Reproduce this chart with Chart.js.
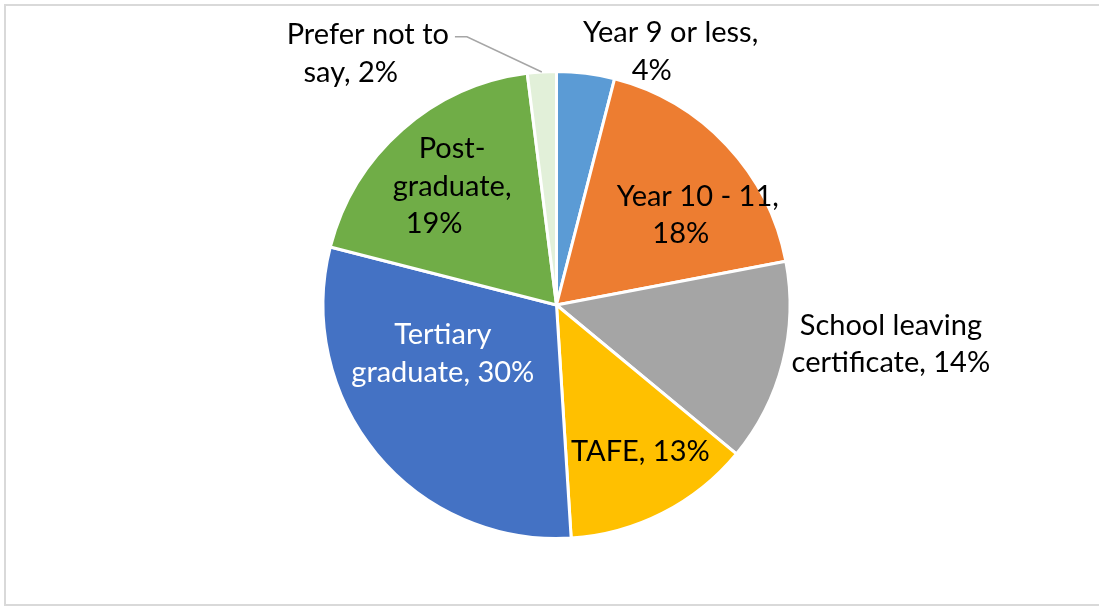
<!DOCTYPE html>
<html>
<head>
<meta charset="utf-8">
<script src="https://cdn.jsdelivr.net/npm/chart.js@4"></script>
<style>
  html, body { margin: 0; padding: 0; background: #fff; overflow: hidden; }
  #wrap { position: relative; width: 1099px; height: 606px; overflow: hidden; }
  #frame {
    position: absolute; left: 4px; top: 4px; width: 1200px; height: 602px;
    border: 2px solid #d9d9d9; box-sizing: border-box;
  }
  canvas { position: absolute; left: 0; top: 0; }
</style>
</head>
<body>
<div id="wrap">
  <div id="frame"></div>
  <canvas id="pie" width="1099" height="606"></canvas>
</div>
<script>
// ── Data ──────────────────────────────────────────────────────────────────────
const categories = [
  'Year 9 or less',
  'Year 10 - 11',
  'School leaving certificate',
  'TAFE',
  'Tertiary graduate',
  'Post-graduate',
  'Prefer not to say',
];
const shares = [4, 18, 14, 13, 30, 19, 2];

// wrapped label text, one entry per slice
const labelLines = [
  ['Year 9 or less,', '4%'],
  ['Year 10 - 11,', '18%'],
  ['School leaving', 'certificate, 14%'],
  ['TAFE, 13%'],
  ['Tertiary', 'graduate, 30%'],
  ['Post-', 'graduate,', '19%'],
  ['Prefer not to', 'say, 2%'],
];

// ── Styling ───────────────────────────────────────────────────────────────────
const sliceColors = ['#5B9BD5', '#ED7D31', '#A5A5A5', '#FFC000', '#4472C4', '#70AD47', '#E2F0D9'];
const labelColors = ['#000', '#000', '#000', '#000', '#fff', '#000', '#000'];
// label block centre relative to the pie centre, in units of the radius
const labelOffsets = [
  [0.489, -1.085],
  [0.605, -0.385],
  [1.432, 0.167],
  [0.359, 0.628],
  [-0.487, 0.209],
  [-0.447, -0.509],
  [-0.808, -1.077],
];
// the wrapped value line sits a little left of the line above it
const lastLineNudge = [-19, -17, 0, 0, 0, -18, -17];
const leaderFor = [6]; // slices whose label sits away from the pie with a line
const FONT = '29px Lato, "Open Sans", sans-serif';
const LINE_H = 37.5;

// ── Label plugin ──────────────────────────────────────────────────────────────
const sliceLabels = {
  id: 'sliceLabels',
  afterDatasetsDraw(chart) {
    const { ctx } = chart;
    const arcs = chart.getDatasetMeta(0).data;
    ctx.save();
    ctx.font = FONT;
    ctx.textAlign = 'center';
    ctx.textBaseline = 'middle';
    arcs.forEach((arc, i) => {
      const r = arc.outerRadius;
      const cx = arc.x + labelOffsets[i][0] * r;
      const cy = arc.y + labelOffsets[i][1] * r;
      const lines = labelLines[i];
      const top = cy - (lines.length - 1) * LINE_H / 2;

      if (leaderFor.includes(i)) {
        const w = ctx.measureText(lines[0]).width;
        const mid = (arc.startAngle + arc.endAngle) / 2;
        const ex = arc.x + Math.cos(mid) * r;
        const ey = arc.y + Math.sin(mid) * r;
        const sx = cx + w / 2 + 6;
        const sy = top + 2;
        ctx.strokeStyle = '#a6a6a6';
        ctx.lineWidth = 1.5;
        ctx.beginPath();
        ctx.moveTo(sx, sy);
        ctx.lineTo(sx + 12, sy);
        ctx.lineTo(ex, ey);
        ctx.stroke();
      }

      ctx.fillStyle = labelColors[i];
      lines.forEach((t, k) => {
        const nudge = (k === lines.length - 1 && k > 0) ? lastLineNudge[i] : 0;
        ctx.fillText(t, cx + nudge, top + k * LINE_H);
      });
    });
    ctx.restore();
  }
};

// ── Chart ─────────────────────────────────────────────────────────────────────
new Chart(document.getElementById('pie'), {
  type: 'pie',
  data: {
    labels: categories,
    datasets: [{
      data: shares,
      backgroundColor: sliceColors,
      borderColor: '#ffffff',
      borderWidth: 3,
    }]
  },
  options: {
    responsive: false,
    animation: false,
    layout: { padding: { top: 70, bottom: 66, left: 321, right: 307 } },
    plugins: {
      legend: { display: false },
      tooltip: { enabled: false },
    }
  },
  plugins: [sliceLabels]
});
</script>
</body>
</html>
